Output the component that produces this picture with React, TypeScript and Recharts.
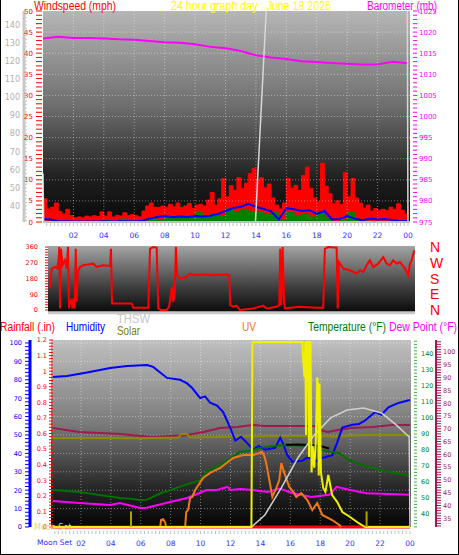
import React from "react";
import { ComposedChart, Line, Area, XAxis, YAxis, ReferenceLine, CartesianGrid } from "recharts";

const NARROW = '"Liberation Sans", Arial, sans-serif';
const SMALL = '"DejaVu Sans", Verdana, sans-serif';

// ---------- panel 1: wind (mph), barometer (mb), THSW ----------
const quarterHours = [
  0, 0.25, 0.5, 0.75, 1, 1.25, 1.5, 1.75, 2, 2.25, 2.5, 2.75, 3, 3.25, 3.5, 3.75, 4, 4.25, 4.5, 4.75,
  5, 5.25, 5.5, 5.75, 6, 6.25, 6.5, 6.75, 7, 7.25, 7.5, 7.75, 8, 8.25, 8.5, 8.75, 9, 9.25, 9.5, 9.75,
  10, 10.25, 10.5, 10.75, 11, 11.25, 11.5, 11.75, 12, 12.25, 12.5, 12.75, 13, 13.25, 13.5, 13.75,
  14, 14.25, 14.5, 14.75, 15, 15.25, 15.5, 15.75, 16, 16.25, 16.5, 16.75, 17, 17.25, 17.5, 17.75,
  18, 18.25, 18.5, 18.75, 19, 19.25, 19.5, 19.75, 20, 20.25, 20.5, 20.75, 21, 21.25, 21.5, 21.75,
  22, 22.25, 22.5, 22.75, 23, 23.25, 23.5, 23.75, 24,
];
const gustMph = [
  5.5, 3.1, 3.5, 4.5, 2.5, 1.9, 3.0, 1.5, 1.0, 1.2, 1.0, 1.4, 1.2, 1.5, 1.3, 2.4, 1.4, 2.4, 1.2, 1.6,
  1.4, 2.2, 1.5, 1.8, 1.5, 1.2, 2.6, 3.8, 4.5, 3.5, 3.4, 3.8, 3.5, 4.2, 3.6, 4.5, 3.4, 3.8, 4.4, 3.2,
  4.0, 4.2, 3.8, 5.2, 7.0, 4.0, 5.5, 10.3, 6.0, 8.6, 7.5, 10.5, 8.0, 9.2, 11.5, 12.7,
  9.8, 10.5, 8.1, 9.0, 5.7, 4.0, 3.1, 4.5, 10.3, 8.0, 8.7, 7.5, 11.0, 13.0, 8.0, 5.7,
  4.8, 13.9, 8.5, 6.7, 4.3, 5.0, 4.2, 11.7, 6.0, 10.3, 5.7, 4.5, 3.3, 4.0, 2.6, 3.2,
  2.8, 3.0, 2.7, 3.5, 3.0, 4.3, 2.8, 1.9, 3.6,
];

const halfHours = [
  0, 0.5, 1, 1.5, 2, 2.5, 3, 3.5, 4, 4.5, 5, 5.5, 6, 6.5, 7, 7.5, 8, 8.5, 9, 9.5, 10, 10.5, 11, 11.5,
  12, 12.5, 13, 13.5, 14, 14.5, 15, 15.5, 16, 16.5, 17, 17.5, 18, 18.5, 19, 19.5, 20, 20.5, 21, 21.5,
  22, 22.5, 23, 23.5, 24,
];
const avgMph = [
  0.7, 0.6, 0.2, 0.2, 0.1, 0.1, 0.1, 0.1, 0.2, 0.1, 0.2, 0.2, 0.1, 0.3, 0.8, 1.2, 1.4, 1.1, 1.3, 1.2, 1.4, 1.3, 1.5, 1.9,
  2.6, 3.3, 3.6, 4.3, 3.6, 3.1, 2.5, 0.6, 3.3, 3.0, 2.6, 2.8, 1.9, 2.6, 0.6, 0.7, 1.4, 0.8, 0.4, 0.8,
  0.6, 0.7, 0.5, 0.2, 0.3,
];
const speedMph = [
  0.2, 0.1, 0, 0, 0, 0, 0, 0, 0.3, 0, 0.7, 0.2, 0, 0.3, 0.7, 0.4, 1.4, 0.8, 1.5, 1.0, 2.2, 1.2, 2.0, 1.5,
  3.1, 2.3, 3.0, 2.4, 2.5, 1.8, 2.2, 0.4, 2.5, 1.6, 1.8, 1.2, 2.2, 0.8, 0.1, 0.3, 2.2, 0.5, 0.2, 0.1,
  0.1, 0, 0.1, 0, 0,
];

const baroHours = [0, 1, 2, 3, 4, 5, 6, 7, 8, 9, 10, 11, 12, 13, 14, 15, 16, 17, 18, 19, 20, 21, 22, 23, 24];
const baroMb = [
  1018.5, 1018.9, 1018.6, 1018.6, 1018.5, 1018.3, 1018.2, 1017.9, 1017.6, 1017.5, 1017.1, 1016.5, 1016.2,
  1015.5, 1014.5, 1014.0, 1013.6, 1013.1, 1012.9, 1012.7, 1012.5, 1012.3, 1012.4, 1013.0, 1012.6,
];

const thswHours = [0, 0.06, 13.9, 14.75, 23.95, 24];
const thswF = [58, 20, 20, 160, 160, 20];

// ---------- panel 2: wind direction ----------
const dirHours = [
  0.13, 0.24, 0.46, 0.61, 0.7, 0.74, 0.79, 0.85, 0.96, 1.11, 1.22, 1.31, 1.38, 1.44, 1.53, 1.6, 1.68, 1.75,
  1.82, 1.88, 1.95, 2.1, 2.32, 2.97, 3.19, 3.63, 4.07, 4.13, 4.2, 4.72, 5.49, 5.59, 6.58, 6.69, 6.91, 7.13,
  7.23, 7.39, 7.78, 7.95, 8.07, 8.15, 8.22, 8.31, 8.39, 8.46, 8.66, 9.09, 9.31, 9.53, 9.97, 10.84, 11.72,
  11.89, 11.95, 12.15, 12.37, 12.59, 13.46, 14.12, 14.34, 14.99, 15.17, 15.23, 15.3, 15.39, 15.48, 15.54,
  15.87, 16.52, 17.62, 18.05, 18.16, 18.38, 18.93, 19.0, 19.08, 19.37, 19.8, 20.02, 20.24, 20.46, 20.68,
  20.9, 21.11, 21.33, 21.66, 21.99, 22.21, 22.43, 22.64, 22.87, 23.08, 23.41, 23.63, 23.74, 23.85, 24.02,
];
const dirDeg = [
  123, 237, 246, 237, 294, 360, 9, 350, 256, 284, 237, 360, 9, 47, 57, 9, 66, 9,
  350, 47, 218, 246, 256, 265, 246, 256, 252, 350, 38, 38, 38, 13, 13, 350, 360, 356,
  9, 0, 0, 19, 104, 133, 47, 95, 360, 199, 180, 190, 208, 199, 203, 199, 203,
  199, 28, 19, 25, 0, 9, 25, 9, 19, 28, 350, 28, 360, 47, 9,
  13, 19, 13, 13, 350, 360, 356, 9, 275, 237, 227, 218, 208, 227, 218,
  256, 284, 246, 265, 303, 265, 256, 284, 265, 275, 237, 199, 265, 284, 341,
];
const compass = ["N", "W", "S", "E", "N"];

// ---------- panel 3: rain, humidity, temperature, dew point, UV, solar ----------
const humHours = [
  0.13, 1.07, 2.41, 3.95, 5.09, 6.43, 6.83, 7.76, 8.63, 9.1, 9.44, 9.97, 10.3, 10.64, 11.1, 11.51, 11.98,
  12.32, 12.7, 13.12, 13.52, 13.9, 14.32, 14.99, 15.33, 15.53, 15.8, 16.13, 16.8, 17.2, 17.67, 18.14,
  18.81, 19.14, 19.48, 20.15, 20.6, 21.02, 21.69, 22.1, 22.56, 23.23, 24.0,
];
const humPct = [
  81.5, 82, 84, 86.4, 87.5, 88, 87, 81, 80, 78, 75.5, 70, 71, 67.5, 66, 62.5, 54,
  47, 49, 45.6, 42, 44, 42, 43, 48.5, 45, 39, 35.5, 36, 38, 35.5, 37.5,
  39, 46, 54, 55.5, 56, 58, 62.5, 61, 65, 67.4, 69,
];
const tempHours = [
  0.13, 1.9, 3.95, 4.6, 5.5, 5.9, 6.43, 7.3, 7.7, 9.05, 9.97, 10.4, 11.3, 11.9, 12.6, 13.25, 14.1,
  15.3, 16.3, 17.3, 18.6, 19.3, 19.9, 20.8, 22.0, 23.0, 24.0,
];
const tempF = [
  55, 53.7, 51, 50, 49.4, 48.8, 49, 53, 54, 58.5, 61, 66.5, 70.6, 74, 78.8, 79.5, 81.5,
  83, 83, 82, 79, 78, 73.8, 70.6, 67.5, 65.5, 64.2,
];
const heatHours = [15.7, 16.5, 17.3, 18.0, 18.6];
const heatF = [83.3, 83.5, 83.2, 82.5, 81.0];
const dewHours = [
  0.13, 1.9, 3.95, 4.6, 5.96, 6.4, 7.96, 9.1, 9.77, 10.4, 11.1, 11.8, 12.0, 12.65, 13.5, 14.46, 15.3,
  16.0, 17.4, 18.6, 19.1, 20.0, 21.1, 24.0,
];
const dewF = [
  48.1, 46.9, 45.6, 46.9, 43.8, 44, 47.5, 50, 52.5, 55, 55, 57, 55, 55.6, 55, 53.8, 56,
  53.5, 50.6, 52, 57, 55, 53, 52,
];
const inTempHours = [0.13, 1.9, 4.6, 6.8, 9.1, 10.2, 11.3, 12.45, 13.5, 14.3, 17.7, 18.0, 18.5, 19.2, 20.1, 21.5, 22.8, 24.0];
const inTempF = [70.3, 68.75, 68, 66.8, 67.6, 68.75, 70.3, 70.7, 71.5, 71.1, 71.1, 69.5, 68.75, 69.5, 70.3, 70.7, 71.5, 71.5];
const inHumHours = [0, 3, 6, 8.5, 8.7, 9.1, 9.3, 11.3, 14.7, 17, 19, 21, 24];
const inHumPct = [48.4, 48.4, 48.2, 48.6, 50.5, 50.5, 48.6, 48.9, 49.5, 49.5, 49.2, 50, 50];
const rainHours = [0, 24];
const rainIn = [0, 0];
const uvHours = [
  7.3, 7.36, 7.5, 7.63, 7.7, 8.97, 9.04, 9.17, 9.3, 9.44, 9.64, 10.17, 10.64, 11.31, 12.18, 12.85, 13.52,
  14.12, 14.26, 14.39, 14.6, 14.8, 15.06, 15.26, 15.4, 15.6, 15.93, 16.2, 16.4, 16.73, 17.14, 17.47, 17.8,
  18.14, 18.8, 19.28, 19.4,
];
const uvIndex = [
  0, 0.45, 0.5, 0.3, 0, 0, 0.96, 1.1, 1.86, 1.93, 2.37, 3.15, 3.47, 3.79, 4.43, 4.62, 4.62,
  4.81, 4.56, 4.1, 3.0, 1.93, 2.5, 3.0, 4.1, 3.47, 2.57, 2.25, 1.93, 2.18, 1.73, 1.09, 1.54,
  0.77, 0.45, 0.13, 0,
];
const solarHours = [
  0, 13.4, 13.47, 16.8, 16.85, 16.95, 17.0, 17.05, 17.1, 17.2, 17.25, 17.3, 17.35, 17.42, 17.5, 17.6, 17.7,
  17.8, 17.85, 17.9, 17.95, 18.05, 18.2, 18.35, 18.54, 18.8, 19.14, 19.48, 20.0, 20.55, 21.0, 24.0,
];
const solarWm2 = [
  0, 0, 1187, 1187, 1090, 960, 1187, 590, 1187, 1187, 450, 1187, 1187, 350, 520, 380, 540,
  960, 900, 330, 920, 350, 250, 225, 334, 205, 160, 96, 64, 26, 0, 0,
];
const sunHours = [13.4, 14.3, 15.4, 16.5, 17.6, 18.7, 19.8, 20.9, 22.1, 23.1, 23.8, 23.95, 24.0];
const sunDeg = [0, 5.8, 18.8, 33.2, 44.3, 52.5, 56.3, 57.3, 54.9, 49, 44.3, 43.5, 0];

const hourLabels = ["02", "04", "06", "08", "10", "12", "14", "16", "18", "20", "22", "00"];

// ---------- helpers ----------
type S = { key: string; hours: number[]; values: number[] };
function merge(series: S[]) {
  const m = new Map<number, Record<string, number>>();
  for (const s of series) {
    s.hours.forEach((h, i) => {
      const r = m.get(h) ?? { h };
      r[s.key] = s.values[i];
      m.set(h, r);
    });
  }
  return [...m.values()].sort((a, b) => a.h - b.h);
}
const range = (a: number, b: number, st: number) => {
  const out: number[] = [];
  for (let i = 0; a + i * st <= b + 1e-9; i++) out.push(+(a + i * st).toFixed(4));
  return out;
};
const mult = (v: number, st: number) => Math.abs(v / st - Math.round(v / st)) < 1e-6;

type TS = { color: string; tick?: string; d1: number; d2: number; lx: number; size: number; step: number; anchor: "start" | "end"; fmt?: (v: number) => string; font?: string };
const yTick = (s: TS) => (p: any) => {
  const v = p.payload.value as number;
  return (
    <g>
      <line x1={p.x + s.d1} x2={p.x + s.d2} y1={p.y} y2={p.y} stroke={s.tick ?? s.color} />
      {mult(v, s.step) && (
        <text x={p.x + s.lx} y={p.y} dy="0.36em" textAnchor={s.anchor} fill={s.color} fontSize={s.size} fontFamily={s.font ?? SMALL}>
          {s.fmt ? s.fmt(v) : v}
        </text>
      )}
    </g>
  );
};
const xTick = (d1: number, d2: number, ly: number) => (p: any) => {
  const v = p.payload.value as number;
  const lab = mult(v, 2) && v > 0 ? hourLabels[v / 2 - 1] : null;
  return (
    <g>
      <line x1={p.x} x2={p.x} y1={p.y + d1} y2={p.y + d2} stroke="#c0c0c0" />
      {lab && (
        <text x={p.x} y={p.y + ly} textAnchor="middle" fill="#3030ff" fontSize={7.5} fontFamily={SMALL}>
          {lab}
        </text>
      )}
    </g>
  );
};

const GRID = "rgba(255,255,255,0.42)";
const evenHours = range(2, 22, 2);

// axis ids are ordered so the "a_" axis sits next to the plot
function WindPanel() {
  const rows = merge([
    { key: "gust", hours: quarterHours, values: gustMph },
    { key: "avg", hours: halfHours, values: avgMph },
    { key: "speed", hours: halfHours, values: speedMph },
    { key: "baro", hours: baroHours, values: baroMb },
    { key: "thsw", hours: thswHours, values: thswF },
  ]);
  return (
    <ComposedChart width={459} height={245} data={rows} margin={{ top: 11, right: 0, bottom: 0, left: 0 }}>
      <CartesianGrid yAxisId="a_wind" horizontal={false} vertical={false} fill="url(#bg1)" fillOpacity={1} stroke="none" />
      <XAxis dataKey="h" type="number" domain={[0, 24.13]} ticks={range(0.25, 24, 0.25)} interval={0} height={23}
        tickSize={0} tickMargin={0} axisLine={{ stroke: "#c0c0c0", strokeWidth: 2 }} tickLine={false} tick={xTick(1, 4, 16)} allowDataOverflow />
      <YAxis yAxisId="a_wind" orientation="left" width={19} domain={[0, 50]} ticks={range(0, 50, 1)} interval={0}
        tickSize={0} tickMargin={0} axisLine={false} tickLine={false}
        tick={yTick({ color: "#ff0000", d1: -7, d2: -1, lx: -10, size: 7, step: 5, anchor: "end" })} />
      <YAxis yAxisId="b_grey" orientation="left" width={24} domain={[31.2, 147.7]} ticks={range(32, 146, 2)} interval={0}
        tickSize={0} tickMargin={0} axisLine={{ stroke: "#c8c8c8", strokeWidth: 3 }} tickLine={false} allowDataOverflow
        tick={yTick({ color: "#b0b0b0", tick: "#c8c8c8", d1: 1, d2: 3, lx: -4, size: 8, step: 10, anchor: "end" })} />
      <YAxis yAxisId="c_baro" orientation="right" width={49} domain={[975, 1025]} ticks={range(975, 1025, 1)} interval={0}
        tickSize={0} tickMargin={0} axisLine={false} tickLine={false}
        tick={yTick({ color: "#ff00ff", d1: 3, d2: 7, lx: 9, size: 7, step: 5, anchor: "start" })} />
      {range(5, 45, 5).map((v) => (
        <ReferenceLine key={"h" + v} yAxisId="a_wind" y={v} stroke={GRID} strokeDasharray="1 2" />
      ))}
      {evenHours.map((h) => (
        <ReferenceLine key={"v" + h} yAxisId="a_wind" x={h} stroke={GRID} strokeDasharray="1 2" />
      ))}
      <Area yAxisId="a_wind" dataKey="gust" type="stepAfter" stroke="#ff0000" fill="#ff0000" fillOpacity={1} connectNulls isAnimationActive={false} />
      <Area yAxisId="a_wind" dataKey="speed" type="stepAfter" stroke="#008000" fill="#008000" fillOpacity={1} connectNulls isAnimationActive={false} />
      <Line yAxisId="a_wind" dataKey="avg" stroke="#0000ff" strokeWidth={2} dot={false} connectNulls isAnimationActive={false} />
      <Line yAxisId="c_baro" dataKey="baro" stroke="#ff00ff" strokeWidth={2} dot={false} connectNulls isAnimationActive={false} />
      <Line yAxisId="b_grey" dataKey="thsw" stroke="#d8d8d8" strokeWidth={1.5} dot={false} connectNulls isAnimationActive={false} />
    </ComposedChart>
  );
}

function DirPanel() {
  const rows = merge([{ key: "dir", hours: dirHours, values: dirDeg }]);
  return (
    <ComposedChart width={459} height={82} data={rows} margin={{ top: 6, right: 0, bottom: 9, left: 0 }}>
      <CartesianGrid yAxisId="dir" horizontal={false} vertical={false} fill="url(#bg2)" fillOpacity={1} stroke="none" />
      <XAxis dataKey="h" type="number" domain={[0, 24.07]} hide />
      <YAxis yAxisId="dir" orientation="left" width={48} domain={[-17, 366]} ticks={range(0, 360, 15)} interval={0}
        tickSize={0} tickMargin={0} axisLine={false} tickLine={false}
        tick={yTick({ color: "#ff0000", d1: -3, d2: 0, lx: -10, size: 6.5, step: 90, anchor: "end" })} />
      <YAxis yAxisId="nsew" orientation="right" width={44} domain={[-17, 366]} ticks={[0, 90, 180, 270, 360]} interval={0}
        tickSize={0} tickMargin={0} axisLine={false} tickLine={false}
        tick={yTick({ color: "#ff0000", tick: "none", d1: 0, d2: 0, lx: 15, size: 14, step: 90, anchor: "start", font: NARROW, fmt: (v) => compass[4 - v / 90] })} />
      <ReferenceLine yAxisId="dir" y={-15} stroke="#c8c8c8" strokeWidth={3} />
      <Line yAxisId="dir" dataKey="dir" stroke="#ff0000" strokeWidth={2} dot={false} connectNulls isAnimationActive={false} />
      <Line yAxisId="nsew" dataKey="dir" stroke="none" dot={false} legendType="none" isAnimationActive={false} />
    </ComposedChart>
  );
}

function WeatherPanel() {
  const rows = merge([
    { key: "rain", hours: rainHours, values: rainIn },
    { key: "hum", hours: humHours, values: humPct },
    { key: "temp", hours: tempHours, values: tempF },
    { key: "heat", hours: heatHours, values: heatF },
    { key: "dew", hours: dewHours, values: dewF },
    { key: "inTemp", hours: inTempHours, values: inTempF },
    { key: "inHum", hours: inHumHours, values: inHumPct },
    { key: "uv", hours: uvHours, values: uvIndex },
    { key: "solar", hours: solarHours, values: solarWm2 },
    { key: "sun", hours: sunHours, values: sunDeg },
  ]);
  const line = (axis: string, key: string, color: string, w = 2) => (
    <Line yAxisId={axis} dataKey={key} stroke={color} strokeWidth={w} dot={false} connectNulls isAnimationActive={false} />
  );
  return (
    <ComposedChart width={459} height={220} data={rows} margin={{ top: 10, right: 0, bottom: 0, left: 0 }}>
      <CartesianGrid yAxisId="b_hum" horizontal={false} vertical={false} fill="url(#bg3)" fillOpacity={1} stroke="none" />
      <XAxis dataKey="h" type="number" domain={[0, 24.07]} ticks={range(0.25, 24, 0.25)} interval={0} height={23}
        tickSize={0} tickMargin={0} axisLine={false} tickLine={false} tick={xTick(4, 7, 18.5)} />
      <YAxis yAxisId="a_rain" orientation="left" width={21} domain={[0, 1.2]} ticks={range(0, 1.2, 0.02)} interval={0}
        tickSize={0} tickMargin={0} axisLine={false} tickLine={false}
        tick={yTick({ color: "#ff0000", d1: -2, d2: 2, lx: -4, size: 6.5, step: 0.1, anchor: "end", fmt: (v) => String(+v.toFixed(1)) })} />
      <YAxis yAxisId="b_hum" orientation="left" width={30} domain={[0, 101.6]} ticks={range(0, 100, 2)} interval={0}
        tickSize={0} tickMargin={0} axisLine={{ stroke: "#0000ff", strokeWidth: 3 }} tickLine={false}
        tick={yTick({ color: "#0000ff", d1: -5, d2: -1, lx: -8, size: 6.5, step: 10, anchor: "end" })} />
      <YAxis yAxisId="a_temp" orientation="right" width={25} domain={[31.9, 148.75]} ticks={range(32, 148, 2)} interval={0}
        tickSize={0} tickMargin={0} axisLine={false} tickLine={false}
        tick={yTick({ color: "#008000", tick: "#40b040", d1: 3, d2: 6, lx: 10, size: 6.5, step: 10, anchor: "start" })} />
      <YAxis yAxisId="b_crim" orientation="right" width={23} domain={[31.6, 104.7]} ticks={range(32, 104, 1)} interval={0}
        tickSize={0} tickMargin={0} axisLine={{ stroke: "#a0194f", strokeWidth: 2 }} tickLine={false}
        tick={yTick({ color: "#a0194f", d1: 1, d2: 5, lx: 7, size: 6.5, step: 5, anchor: "start" })} />
      <YAxis yAxisId="x_uv" hide width={0} domain={[0, 12]} />
      <YAxis yAxisId="x_solar" hide width={0} domain={[0, 1200]} />
      <YAxis yAxisId="x_sun" hide width={0} domain={[0, 90]} />
      {range(10, 100, 10).map((v) => (
        <ReferenceLine key={"h" + v} yAxisId="b_hum" y={v} stroke={GRID} strokeDasharray="1 2" />
      ))}
      {evenHours.map((h) => (
        <ReferenceLine key={"v" + h} yAxisId="b_hum" x={h} stroke={GRID} strokeDasharray="1 2" />
      ))}
      {line("b_crim", "inTemp", "#a0194f")}
      {line("b_hum", "inHum", "#8c8c00")}
      {line("b_hum", "hum", "#0000ff")}
      {line("a_temp", "temp", "#007000")}
      {line("a_temp", "heat", "#000000")}
      {line("a_temp", "dew", "#ff00ff")}
      {line("a_rain", "rain", "#ff0000", 3)}
      {line("x_uv", "uv", "#f07818")}
      {line("x_sun", "sun", "#d0d0d0", 1.5)}
      {line("x_solar", "solar", "#f0f000")}
      <ReferenceLine yAxisId="a_rain" segment={[{ x: 5.35, y: 0 }, { x: 5.35, y: 0.1 }]} stroke="#b0a000" strokeWidth={2} />
      <ReferenceLine yAxisId="a_rain" segment={[{ x: 21.1, y: 0 }, { x: 21.1, y: 0.1 }]} stroke="#b0a000" strokeWidth={2} />
    </ComposedChart>
  );
}

function Labels() {
  const t = (x: number, y: number, fill: string, s: string, w: number, size = 12.5) => (
    <text x={x} y={y} fill={fill} fontSize={size} fontFamily={NARROW} textLength={w} lengthAdjust="spacingAndGlyphs">{s}</text>
  );
  return (
    <svg width={459} height={555} style={{ position: "absolute", left: 0, top: 0, pointerEvents: "none" }}>
      {t(34, 9.5, "#ff0000", "Windspeed (mph)", 82)}
      {t(171, 9.5, "#ffff00", "24 hour graph day : June 18 2026", 160)}
      {t(367, 9.5, "#ff00ff", "Barometer (mb)", 70)}
      {t(117, 323, "#c8c8c8", "THSW", 33)}
      {t(0, 331, "#ff0000", "Rainfall (.in)", 55)}
      {t(66, 331, "#0000ff", "Humidity", 39)}
      {t(117, 335, "#808000", "Solar", 23)}
      {t(242, 331, "#f07818", "UV", 14)}
      {t(308, 331, "#008000", "Temperature (°F)", 78)}
      {t(389, 331, "#ff00ff", "Dew Point (°F)", 68)}
      <text x={34} y={530} fill="#e8d870" fontSize={8} fontFamily={SMALL}>Moon Set</text>
      <text x={37} y={545} fill="#3030ff" fontSize={7.5} fontFamily={SMALL}>Moon Set</text>
    </svg>
  );
}

export default function App() {
  return (
    <div style={{ position: "absolute", left: 0, top: 0, width: 459, height: 555, background: "#fff", overflow: "hidden" }}>
      <svg width={0} height={0} style={{ position: "absolute" }}>
        <defs>
          <linearGradient id="bg1" x1="0" y1="0" x2="0" y2="1">
            <stop offset="0%" stopColor="#b6b6b6" />
            <stop offset="45%" stopColor="#6e6e6e" />
            <stop offset="80%" stopColor="#1e1e1e" />
            <stop offset="100%" stopColor="#080808" />
          </linearGradient>
          <linearGradient id="bg2" x1="0" y1="0" x2="0" y2="1">
            <stop offset="0%" stopColor="#a4a4a4" />
            <stop offset="60%" stopColor="#404040" />
            <stop offset="100%" stopColor="#080808" />
          </linearGradient>
          <linearGradient id="bg3" x1="0" y1="0" x2="0" y2="1">
            <stop offset="0%" stopColor="#c0c0c0" />
            <stop offset="45%" stopColor="#7a7a7a" />
            <stop offset="80%" stopColor="#242424" />
            <stop offset="100%" stopColor="#050505" />
          </linearGradient>
        </defs>
      </svg>
      <div style={{ position: "absolute", left: 0, top: 0 }}>
        <WindPanel />
      </div>
      <div style={{ position: "absolute", left: 0, top: 240 }}>
        <DirPanel />
      </div>
      <div style={{ position: "absolute", left: 0, top: 330 }}>
        <WeatherPanel />
      </div>
      <Labels />
      <div style={{ position: "absolute", left: 0, top: 0, width: 459, height: 555, boxSizing: "border-box", borderLeft: "1px solid #000", borderRight: "1px solid #000", borderBottom: "1px solid #000", pointerEvents: "none" }} />
    </div>
  );
}
